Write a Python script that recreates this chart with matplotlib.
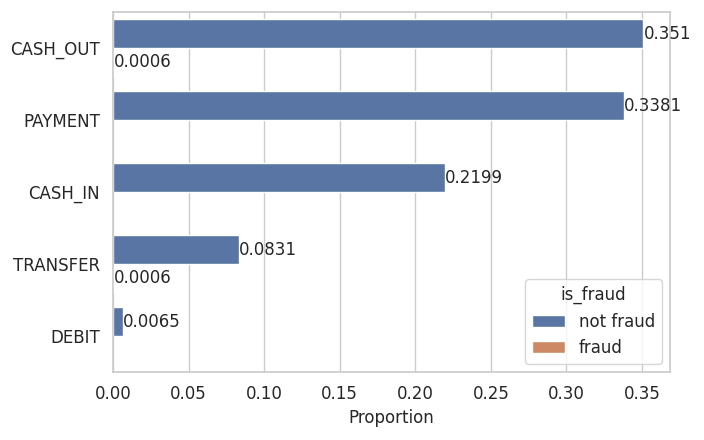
import matplotlib
matplotlib.use("Agg")
import matplotlib.pyplot as plt
import numpy as np
import pandas as pd
import seaborn as sns

types = ["CASH_OUT", "PAYMENT", "CASH_IN", "TRANSFER", "DEBIT"]
not_fraud = [0.351, 0.3381, 0.2199, 0.0831, 0.0065]
fraud_types = ["CASH_OUT", "TRANSFER"]
fraud = [0.0006, 0.0006]

df = pd.concat([
    pd.DataFrame({"type": types, "Proportion": not_fraud, "is_fraud": "not fraud"}),
    pd.DataFrame({"type": fraud_types, "Proportion": fraud, "is_fraud": "fraud"}),
], ignore_index=True)

sns.set_theme(style="whitegrid", rc={"xtick.labelsize": 12, "ytick.labelsize": 12,
                                     "legend.fontsize": 12, "legend.title_fontsize": 12})
fig, ax = plt.subplots(figsize=(7.04, 4.4), dpi=100)
sns.barplot(data=df, y="type", x="Proportion", hue="is_fraud",
            order=types, hue_order=["not fraud", "fraud"], ax=ax)
for c in ax.containers:
    ax.bar_label(c, labels=[f"{v:g}" if v > 0 else "" for v in c.datavalues], fontsize=12)
ax.set_ylabel("")
ax.legend(title="is_fraud", loc="lower right")
fig.subplots_adjust(left=0.1605, right=0.9517, top=0.9727, bottom=0.1545)
plt.savefig("out.png", dpi=100)
